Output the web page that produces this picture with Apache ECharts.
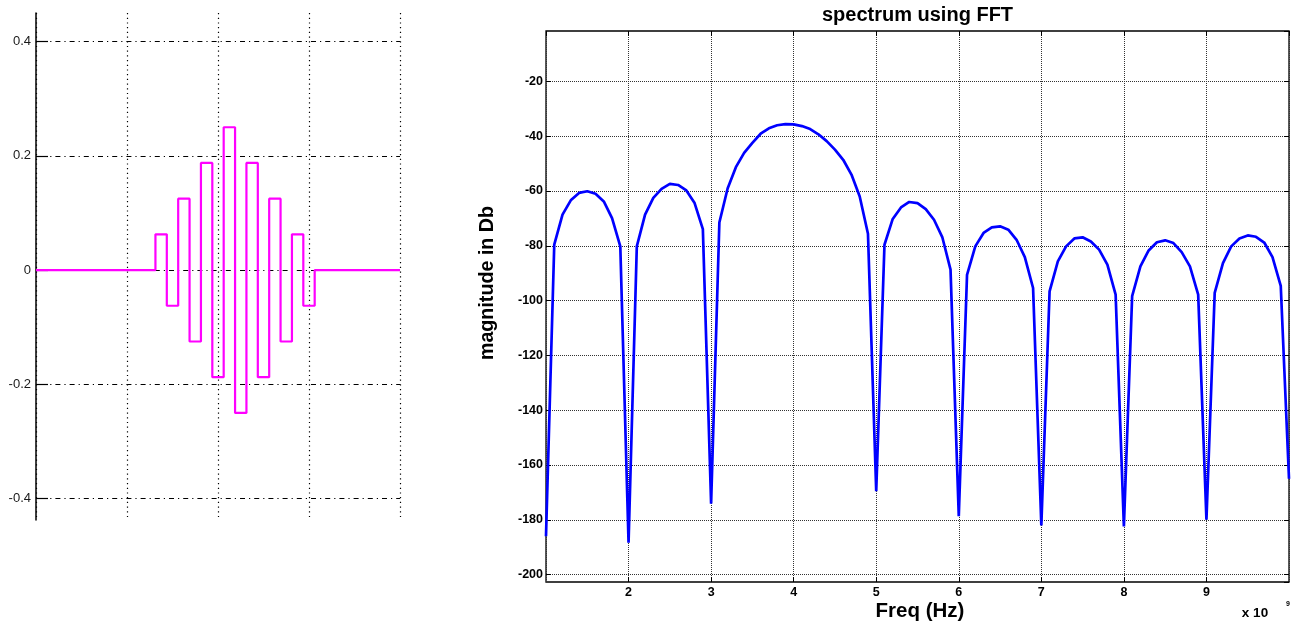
<!DOCTYPE html>
<html>
<head>
<meta charset="utf-8">
<script src="https://cdn.jsdelivr.net/npm/echarts@6/dist/echarts.min.js"></script>
<style>
html, body { margin: 0; padding: 0; background: #fff; }
#main { width: 1303px; height: 623px; }
</style>
</head>
<body>
<div id="main"></div>
<script>
// left plot: stepped pulse (sample index vs amplitude)
var pulseTimes = [0, 10.5, 11.5, 12.5, 13.5, 14.5, 15.5, 16.5, 17.5, 18.5, 19.5, 20.5, 21.5, 22.5, 23.5, 24.5, 32];
var pulseValues = [0, 0.0625, -0.0625, 0.125, -0.125, 0.1875, -0.1875, 0.25, -0.25, 0.1875, -0.1875, 0.125, -0.125, 0.0625, -0.0625, 0, 0];
var pulseTicks = [-0.4, -0.2, 0, 0.2, 0.4];

// right plot: spectrum, freq in units of 1e9 Hz
var freqs = [
  1.0, 1.1, 1.2, 1.3, 1.4, 1.5, 1.6, 1.7, 1.8, 1.9,
  2.0, 2.1, 2.2, 2.3, 2.4, 2.5, 2.6, 2.7, 2.8, 2.9,
  3.0, 3.1, 3.2, 3.3, 3.4, 3.5, 3.6, 3.7, 3.8, 3.9,
  4.0, 4.1, 4.2, 4.3, 4.4, 4.5, 4.6, 4.7, 4.8, 4.9,
  5.0, 5.1, 5.2, 5.3, 5.4, 5.5, 5.6, 5.7, 5.8, 5.9,
  6.0, 6.1, 6.2, 6.3, 6.4, 6.5, 6.6, 6.7, 6.8, 6.9,
  7.0, 7.1, 7.2, 7.3, 7.4, 7.5, 7.6, 7.7, 7.8, 7.9,
  8.0, 8.1, 8.2, 8.3, 8.4, 8.5, 8.6, 8.7, 8.8, 8.9,
  9.0, 9.1, 9.2, 9.3, 9.4, 9.5, 9.6, 9.7, 9.8, 9.9,
  10.0
];
var magDb = [
  -186, -79.6, -68.6, -63.4, -60.7, -60.1, -61.0, -63.8, -69.9, -80.2,
  -188.4, -80.2, -68.6, -62.5, -59.2, -57.4, -57.8, -59.8, -64.4, -73.9,
  -174.1, -71.5, -59.1, -51.3, -46.1, -42.4, -39.1, -37.1, -36.0, -35.6,
  -35.7, -36.3, -37.4, -39.3, -41.8, -44.9, -48.6, -54.0, -62.0, -75.6,
  -169.6, -79.6, -70.2, -66.0, -64.0, -64.4, -66.6, -70.5, -76.8, -88.7,
  -178.7, -90.6, -80.2, -75.3, -73.3, -72.9, -74.1, -77.8, -84.1, -95.4,
  -182.1, -96.6, -85.7, -80.2, -77.3, -76.9, -78.4, -81.4, -86.9, -97.8,
  -182.4, -98.4, -87.5, -81.7, -78.7, -78.0, -79.0, -82.3, -87.5, -97.8,
  -180.0, -97.2, -86.3, -80.2, -77.3, -76.2, -76.7, -78.8, -84.1, -94.6,
  -165
];

var pulseData = [];
for (var i = 0; i < pulseTimes.length; i++) {
  pulseData.push([pulseTimes[i], pulseValues[i]]);
}
var specData = [];
for (var j = 0; j < freqs.length; j++) {
  specData.push([freqs[j], magDb[j]]);
}

var myChart = echarts.init(document.getElementById('main'));
var option = {
  animation: false,
  backgroundColor: '#fff',
  grid: [
    { left: 36, top: 13, width: 364, height: 507 },
    { left: 546, top: 31, width: 743, height: 551, show: true, borderColor: '#000', borderWidth: 1.3, backgroundColor: 'transparent' }
  ],
  xAxis: [
    {
      gridIndex: 0, type: 'value', min: 0, max: 32, interval: 8,
      axisLine: { show: false }, axisTick: { show: false }, axisLabel: { show: false },
      splitLine: { show: true, lineStyle: { color: '#000', width: 1.2, type: [1.2, 3.5] } }
    },
    {
      gridIndex: 1, type: 'value', position: 'bottom', min: 1, max: 10, interval: 1,
      axisLine: { show: false },
      axisTick: { show: true, inside: true, length: 5, lineStyle: { color: '#000', width: 1 } },
      axisLabel: { show: true, margin: 4, color: '#000', fontFamily: '"Liberation Sans", Arial, sans-serif', fontWeight: 'bold', fontSize: 12.5, showMinLabel: false, showMaxLabel: false },
      splitLine: { show: true, lineStyle: { color: '#333', width: 1, type: [1, 1] } }
    },
    {
      gridIndex: 1, type: 'value', position: 'top', min: 1, max: 10, interval: 1,
      axisLine: { show: false },
      axisTick: { show: true, inside: true, length: 5, lineStyle: { color: '#000', width: 1 } },
      axisLabel: { show: false }, splitLine: { show: false }
    }
  ],
  yAxis: [
    {
      gridIndex: 0, type: 'value', min: -0.4375, max: 0.45, splitNumber: 5,
      axisLine: { show: true, onZero: false, lineStyle: { color: '#000', width: 1.5 } },
      axisTick: { show: true, inside: true, length: 12, customValues: pulseTicks, lineStyle: { color: '#000', width: 1.2 } },
      axisLabel: { show: true, margin: 5, color: '#1a1a1a', fontFamily: '"Liberation Sans", Arial, sans-serif', fontSize: 13, showMinLabel: false, showMaxLabel: false },
      splitLine: { show: true, lineStyle: { color: '#000', width: 1.1, type: [1.2, 4, 5, 4] } }
    },
    {
      gridIndex: 1, type: 'value', position: 'left', min: -202.7, max: -1.6, splitNumber: 10,
      axisLine: { show: false },
      axisTick: { show: true, inside: true, length: 5, lineStyle: { color: '#000', width: 1 } },
      axisLabel: { show: true, margin: 3, color: '#000', fontFamily: '"Liberation Sans", Arial, sans-serif', fontWeight: 'bold', fontSize: 12.5, showMinLabel: false, showMaxLabel: false },
      splitLine: { show: true, showMinLine: false, showMaxLine: false, lineStyle: { color: '#333', width: 1, type: [1, 1] } }
    },
    {
      gridIndex: 1, type: 'value', position: 'right', min: -202.7, max: -1.6, splitNumber: 10,
      axisLine: { show: false },
      axisTick: { show: true, inside: true, length: 5, lineStyle: { color: '#000', width: 1 } },
      axisLabel: { show: false }, splitLine: { show: false }
    }
  ],
  graphic: [
    { type: 'text', x: 917.5, y: 15.5, style: { text: 'spectrum using FFT', font: 'bold 20px "Liberation Sans", Arial, sans-serif', fill: '#000', align: 'center', verticalAlign: 'middle' } },
    { type: 'text', x: 920, y: 611, style: { text: 'Freq (Hz)', font: 'bold 20.5px "Liberation Sans", Arial, sans-serif', fill: '#000', align: 'center', verticalAlign: 'middle' } },
    { type: 'text', x: 488, y: 283, rotation: Math.PI / 2, style: { text: 'magnitude in Db', font: 'bold 19.7px "Liberation Sans", Arial, sans-serif', fill: '#000', align: 'center', verticalAlign: 'middle' } },
    { type: 'text', x: 1255, y: 613.5, style: { text: 'x 10', font: 'bold 13.5px "Liberation Sans", Arial, sans-serif', fill: '#000', align: 'center', verticalAlign: 'middle' } },
    { type: 'text', x: 1288, y: 604, style: { text: '9', font: 'bold 7px "Liberation Sans", Arial, sans-serif', fill: '#000', align: 'center', verticalAlign: 'middle' } }
  ],
  series: [
    {
      type: 'line', xAxisIndex: 0, yAxisIndex: 0, step: 'end', showSymbol: false,
      lineStyle: { color: '#ff00ff', width: 2.2 }, data: pulseData
    },
    {
      type: 'line', xAxisIndex: 1, yAxisIndex: 1, showSymbol: false, clip: true,
      lineStyle: { color: '#0000ff', width: 2.7 }, data: specData
    }
  ]
};
myChart.setOption(option);
</script>
</body>
</html>
